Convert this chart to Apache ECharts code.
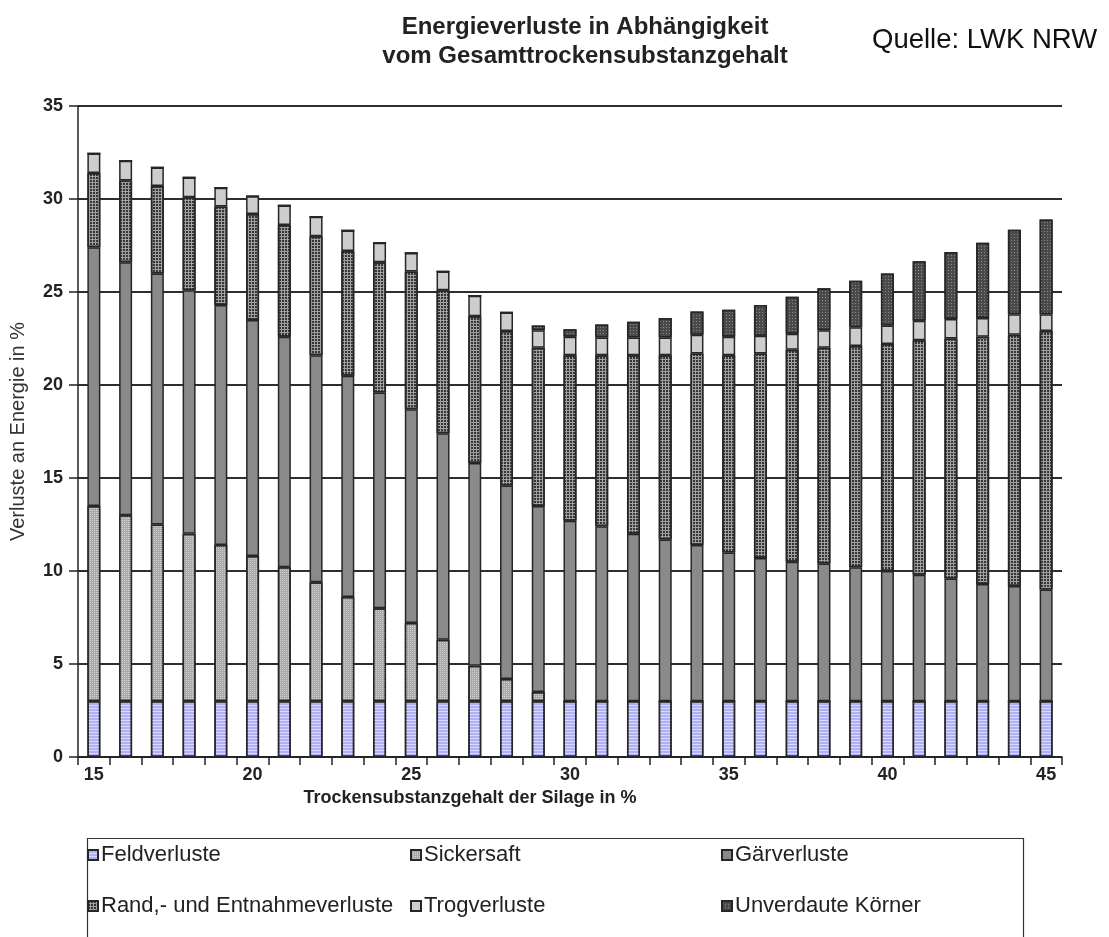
<!DOCTYPE html>
<html>
<head>
<meta charset="utf-8">
<script src="https://cdn.jsdelivr.net/npm/echarts@6/dist/echarts.min.js"></script>
<style>
  html, body { margin: 0; padding: 0; background: #fff; }
  #chart { width: 1109px; height: 937px; }
</style>
</head>
<body>
<div id="chart"></div>
<script>
// x categories: Trockensubstanzgehalt in %
const categories = ['15','16','17','18','19','20','21','22','23','24','25','26','27','28','29','30',
  '31','32','33','34','35','36','37','38','39','40','41','42','43','44','45'];

// stacked segments (percent energy losses), bottom to top
const feldverluste = [3,3,3,3,3,3,3,3,3,3,3,3,3,3,3,3,3,3,3,3,3,3,3,3,3,3,3,3,3,3,3];
const sickersaft = [10.5,10.0,9.5,9.0,8.4,7.8,7.2,6.4,5.6,5.0,4.2,3.3,1.9,1.2,0.5,0,
  0,0,0,0,0,0,0,0,0,0,0,0,0,0,0];
const gaerverluste = [13.9,13.6,13.5,13.1,12.9,12.7,12.4,12.2,11.9,11.6,11.5,11.1,10.9,10.4,10.0,9.7,
  9.4,9.0,8.7,8.4,8.0,7.7,7.5,7.4,7.2,7.0,6.8,6.6,6.3,6.2,6.0];
const randEntnahme = [4.0,4.4,4.7,5.0,5.3,5.7,6.0,6.4,6.7,7.0,7.4,7.7,7.9,8.3,8.5,8.9,
  9.2,9.6,9.9,10.3,10.6,11.0,11.4,11.6,11.9,12.2,12.6,12.9,13.3,13.5,13.9];
const trogverluste = [1.05,1.05,1.0,1.05,1.0,0.95,1.05,1.05,1.1,1.05,1.0,1.0,1.1,1.0,0.95,1.0,
  0.95,0.95,0.95,1.0,1.0,0.95,0.85,0.95,1.0,1.0,1.05,1.05,1.0,1.1,0.9];
const unverdauteKoerner = [0,0,0,0,0,0,0,0,0,0,0,0,0,0,0.25,0.4,
  0.7,0.85,1.05,1.25,1.45,1.65,2.0,2.25,2.5,2.8,3.2,3.6,4.05,4.55,5.1];

const seriesNames = ['Feldverluste','Sickersaft','Gärverluste','Rand,- und Entnahmeverluste','Trogverluste','Unverdaute Körner'];
const yTicks = [0,5,10,15,20,25,30,35];

const FONT = '"Liberation Sans", Arial, sans-serif';

function barSeries(name, data, color, decal) {
  const s = {
    name: name,
    type: 'bar',
    stack: 'total',
    barWidth: 13,
    data: data,
    itemStyle: { color: color, borderColor: '#262626', borderWidth: 1.5 }
  };
  if (decal) s.itemStyle.decal = decal;
  return s;
}

const chart = echarts.init(document.getElementById('chart'), null, { renderer: 'canvas' });

const legendRowTop = [844, 895];
const legendCols = [87, 410, 721];
const legends = seriesNames.map((n, i) => ({
  data: [n],
  left: legendCols[i % 3],
  top: legendRowTop[Math.floor(i / 3)],
  padding: 0,
  itemWidth: 10,
  itemHeight: 10,
  itemGap: 4,
  icon: 'rect',
  selectedMode: false,
  textStyle: { fontFamily: FONT, fontSize: 22, color: '#222', padding: [0, 0, 0, -2] }
}));

chart.setOption({
  animation: false,
  backgroundColor: '#ffffff',
  title: [
    {
      text: 'Energieverluste in Abhängigkeit\nvom Gesamttrockensubstanzgehalt',
      left: 585, top: 13, padding: 0, textAlign: 'center',
      textStyle: { fontFamily: FONT, fontSize: 24, fontWeight: 'bold', lineHeight: 29, color: '#222' }
    },
    {
      text: 'Quelle: LWK NRW',
      left: 872, top: 26, padding: 0, textAlign: 'left',
      textStyle: { fontFamily: FONT, fontSize: 27.5, fontWeight: 'normal', color: '#111' }
    }
  ],
  legend: legends,
  grid: { left: 78, right: 47, top: 106, bottom: 180, containLabel: false, outerBoundsMode: 'none' },
  xAxis: {
    type: 'category',
    data: categories,
    boundaryGap: true,
    name: 'Trockensubstanzgehalt der Silage in %',
    nameLocation: 'middle',
    nameGap: 32,
    nameTextStyle: { fontFamily: FONT, fontSize: 18, fontWeight: 'bold', color: '#222', padding: [0, 200, 0, 0] },
    axisLine: { show: true, lineStyle: { color: '#222', width: 1.5 } },
    axisTick: { show: true, interval: 0, length: 8, lineStyle: { color: '#222', width: 1.5 } },
    axisLabel: { interval: 4, margin: 9, fontFamily: FONT, fontSize: 18, fontWeight: 'bold', color: '#222' },
    splitLine: { show: false }
  },
  yAxis: {
    type: 'value',
    min: yTicks[0],
    max: yTicks[yTicks.length - 1],
    interval: 5,
    name: 'Verluste an Energie in %',
    nameLocation: 'middle',
    nameGap: 50,
    nameRotate: 90,
    nameTextStyle: { fontFamily: FONT, fontSize: 20, color: '#333' },
    axisLine: { show: true, lineStyle: { color: '#222', width: 1.5 } },
    axisTick: { show: true, inside: false, length: 9, lineStyle: { color: '#222', width: 1.5 } },
    axisLabel: { margin: 15, fontFamily: FONT, fontSize: 18, fontWeight: 'bold', color: '#222' },
    splitLine: { show: true, lineStyle: { color: '#2e2e2e', width: 1.8 } }
  },
  graphic: [
    {
      type: 'rect', left: 85, top: 836, z: -1,
      shape: { width: 936, height: 140 },
      style: { fill: 'none', stroke: '#333', lineWidth: 1.2 }
    }
  ],
  series: [
    barSeries(seriesNames[0], feldverluste, '#b0b0f6',
      { symbol: 'rect', symbolSize: 1, color: 'rgba(255,255,255,0.5)', dashArrayX: [1, 0], dashArrayY: [1, 2] }),
    barSeries(seriesNames[1], sickersaft, '#a9a9a9',
      { symbol: 'rect', symbolSize: 1, color: '#d2d2d2', dashArrayX: [1, 1], dashArrayY: [1, 1] }),
    barSeries(seriesNames[2], gaerverluste, '#8a8a8a', null),
    barSeries(seriesNames[3], randEntnahme, '#a0a0a0',
      { symbol: 'rect', symbolSize: 1, color: '#363636', dashArrayX: [2, 1], dashArrayY: [2, 1] }),
    barSeries(seriesNames[4], trogverluste, '#cdcdcd', null),
    barSeries(seriesNames[5], unverdauteKoerner, '#4a4a4a',
      { symbol: 'rect', symbolSize: 1, color: '#8a8a8a', dashArrayX: [1, 2], dashArrayY: [1, 2] })
  ]
});
</script>
</body>
</html>
